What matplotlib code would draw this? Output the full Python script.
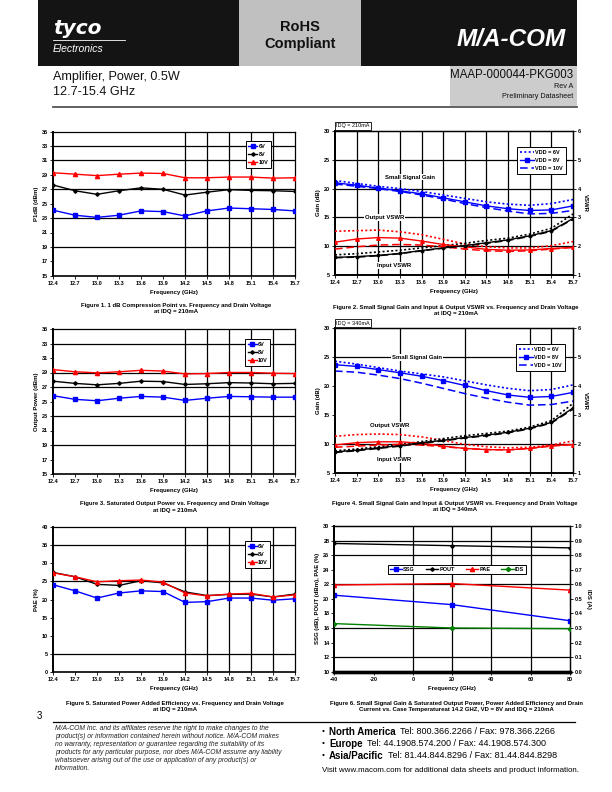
import matplotlib
matplotlib.use("Agg")
import matplotlib.pyplot as plt
from matplotlib.patches import Rectangle
from matplotlib import font_manager as fm

W, H = 612, 792

# ---------------- data ----------------
freq = [12.4, 12.7, 13.0, 13.3, 13.6, 13.9, 14.2, 14.5, 14.8, 15.1, 15.4, 15.7]
freq_labels = ["12.4", "12.7", "13.0", "13.3", "13.6", "13.9", "14.2", "14.5",
               "14.8", "15.1", "15.4", "15.7"]
vdd_labels = ["6V", "8V", "10V"]
vdd_legend = ["VDD = 6V", "VDD = 8V", "VDD = 10V"]

# Figure 1: P1dB (dBm)
p1db_6v = [24.1, 23.4, 23.1, 23.4, 24.0, 23.9, 23.3, 24.0, 24.4, 24.3, 24.2, 24.0]
p1db_8v = [27.6, 26.8, 26.3, 26.8, 27.2, 27.0, 26.2, 26.6, 26.95, 26.85, 26.8, 26.7]
p1db_10v = [29.3, 29.1, 28.9, 29.1, 29.25, 29.2, 28.6, 28.6, 28.7, 28.7, 28.55, 28.6]

# Figure 3: Saturated output power (dBm)
psat_6v = [25.8, 25.3, 25.1, 25.45, 25.7, 25.6, 25.15, 25.45, 25.7, 25.65, 25.6, 25.6]
psat_8v = [27.8, 27.5, 27.3, 27.5, 27.8, 27.75, 27.35, 27.45, 27.6, 27.55, 27.45, 27.5]
psat_10v = [29.4, 29.1, 28.95, 29.1, 29.3, 29.2, 28.8, 28.85, 29.0, 29.0, 28.9, 28.85]

# Figure 5: PAE (%)
pae_6v = [24.1, 22.4, 20.4, 21.8, 22.4, 22.2, 19.2, 19.4, 20.4, 20.4, 19.8, 20.2]
pae_8v = [27.5, 26.3, 24.2, 23.9, 25.2, 24.6, 22.1, 21.1, 21.4, 21.5, 20.7, 21.5]
pae_10v = [27.4, 26.3, 24.9, 25.2, 25.4, 24.8, 21.8, 21.0, 21.5, 21.7, 20.7, 21.3]

# Figure 2: IDQ = 210 mA
gain210_6v = [21.4, 20.9, 20.4, 20.0, 19.5, 18.9, 18.3, 17.7, 17.3, 17.1, 17.4, 18.1]
gain210_8v = [21.0, 20.6, 20.1, 19.6, 19.1, 18.4, 17.7, 17.0, 16.5, 16.2, 16.3, 17.0]
gain210_10v = [20.8, 20.4, 20.0, 19.5, 18.9, 18.2, 17.4, 16.7, 16.1, 15.6, 15.7, 16.2]
outvswr210_6v = [2.52, 2.54, 2.56, 2.50, 2.40, 2.24, 2.08, 1.98, 1.94, 1.94, 2.02, 2.16]
outvswr210_8v = [2.14, 2.25, 2.30, 2.28, 2.18, 2.06, 1.98, 1.89, 1.86, 1.87, 1.92, 1.96]
outvswr210_10v = [1.90, 1.98, 2.04, 2.06, 2.04, 1.98, 1.90, 1.84, 1.82, 1.84, 1.90, 1.96]
invswr210_6v = [1.70, 1.74, 1.80, 1.86, 1.94, 2.02, 2.10, 2.20, 2.28, 2.42, 2.62, 3.12]
invswr210_8v = [1.61, 1.64, 1.68, 1.75, 1.85, 1.94, 2.02, 2.12, 2.22, 2.36, 2.54, 2.96]
invswr210_10v = [1.60, 1.62, 1.67, 1.74, 1.84, 1.93, 2.01, 2.10, 2.20, 2.34, 2.52, 2.94]

# Figure 4: IDQ = 340 mA
gain340_6v = [24.3, 23.8, 23.2, 22.6, 22.1, 21.6, 20.9, 20.2, 19.6, 19.2, 19.4, 20.2]
gain340_8v = [23.7, 23.4, 22.85, 22.3, 21.7, 20.95, 20.1, 19.2, 18.45, 18.05, 18.2, 18.9]
gain340_10v = [22.6, 22.4, 21.9, 21.3, 20.5, 19.6, 18.7, 17.9, 17.2, 16.7, 16.8, 17.4]
outvswr340_6v = [2.26, 2.32, 2.34, 2.32, 2.24, 2.12, 1.98, 1.90, 1.86, 1.88, 1.96, 2.10]
outvswr340_8v = [1.96, 2.04, 2.07, 2.07, 2.02, 1.92, 1.84, 1.80, 1.79, 1.84, 1.94, 1.97]
outvswr340_10v = [1.88, 1.92, 1.96, 1.98, 1.96, 1.90, 1.84, 1.80, 1.79, 1.84, 1.92, 1.98]
invswr340_6v = [1.76, 1.82, 1.90, 1.98, 2.08, 2.18, 2.28, 2.36, 2.44, 2.58, 2.80, 3.40]
invswr340_8v = [1.72, 1.78, 1.86, 1.94, 2.04, 2.12, 2.22, 2.30, 2.40, 2.54, 2.74, 3.24]
invswr340_10v = [1.70, 1.76, 1.84, 1.92, 2.02, 2.10, 2.20, 2.28, 2.38, 2.52, 2.72, 3.20]

# Figure 6: vs case temperature
temp = [-40, 20, 80]
temp_ticks = [-40, -20, 0, 20, 40, 60, 80]
ssg_t = [20.5, 19.2, 17.0]
pout_t = [27.6, 27.3, 27.0]
pae_t = [21.9, 22.1, 21.2]
ids_t = [0.33, 0.30, 0.295]
fig6_labels = ["SSG", "POUT", "PAE", "IDS"]

# ---------------- fonts ----------------
names = {f.name for f in fm.fontManager.ttflist}
HAS_NARROW = "Liberation Sans Narrow" in names
NARROW = ["Liberation Sans Narrow", "Liberation Sans"] if HAS_NARROW else ["Liberation Sans"]
NS = 1.0 if HAS_NARROW else 0.83
plt.rcParams["font.family"] = ["Liberation Sans", "DejaVu Sans"]

BLUE = "#0000ff"
RED = "#ff0000"
BLACK = "#000000"
TS = 4.0   # tick size
LS = 4.3   # label size

fig = plt.figure(figsize=(W / 100, H / 100), dpi=100)
renderer = fig.canvas.get_renderer()

# background overlay in page pixel coordinates
bg = fig.add_axes([0, 0, 1, 1])
bg.set_xlim(0, W)
bg.set_ylim(H, 0)
bg.axis("off")


def page_text(x, y, s, **kw):
    return bg.text(x, y, s, **kw)


# header
bg.add_patch(Rectangle((38, 0), 539, 66, color="#141414", lw=0))
bg.add_patch(Rectangle((239, 0), 122, 66, color="#c0c0c0", lw=0))
bg.add_patch(Rectangle((450, 66), 127, 40, color="#cccccc", lw=0))
bg.plot([53, 577], [106.5, 106.5], color="#555555", lw=1.3)
page_text(53, 28, "tyco", color="white", fontsize=14.5, fontweight="bold",
          fontstyle="italic", va="center", ha="left", family=["DejaVu Sans"])
bg.plot([53, 125], [40, 40], color="white", lw=0.6)
page_text(53, 49, "Electronics", color="white", fontsize=7.5, fontstyle="italic",
          va="center", ha="left")
page_text(300, 27, "RoHS", color="#111111", fontsize=10.5, fontweight="bold",
          va="center", ha="center")
page_text(300, 44, "Compliant", color="#111111", fontsize=10.5, fontweight="bold",
          va="center", ha="center")
page_text(511, 40, "M/A-COM", color="white", fontsize=21 * NS, fontweight="bold",
          fontstyle="italic", va="center", ha="center", family=NARROW)
page_text(53, 77, "Amplifier, Power, 0.5W", fontsize=11 * NS, va="center",
          ha="left", family=NARROW, color="#111111")
page_text(53, 92, "12.7-15.4 GHz", fontsize=11 * NS, va="center", ha="left",
          family=NARROW, color="#111111")
page_text(573, 75, "MAAP-000044-PKG003", fontsize=10 * NS, va="center",
          ha="right", family=NARROW, color="#111111")
page_text(573, 86, "Rev A", fontsize=6.3 * NS, va="center", ha="right",
          family=NARROW, color="#111111")
page_text(573, 96, "Preliminary Datasheet", fontsize=6.3 * NS, va="center",
          ha="right", family=NARROW, color="#111111")

# footer
page_text(37, 716, "3", fontsize=7, va="center", ha="left")
bg.plot([53, 575], [721.5, 721.5], color="black", lw=0.9)
disclaimer = [
    "M/A-COM Inc. and its affiliates reserve the right to make changes to the",
    "product(s) or information contained herein without notice. M/A-COM makes",
    "no warranty, representation or guarantee regarding the suitability of its",
    "products for any particular purpose, nor does M/A-COM assume any liability",
    "whatsoever arising out of the use or application of any product(s) or",
    "information.",
]
for i, line in enumerate(disclaimer):
    page_text(55, 728 + 8.2 * i, line, fontsize=5.9 * NS, fontstyle="italic",
              va="center", ha="left", family=NARROW, color="#222222")
contacts = [("North America", "Tel: 800.366.2266 / Fax: 978.366.2266"),
            ("Europe", "Tel: 44.1908.574.200 / Fax: 44.1908.574.300"),
            ("Asia/Pacific", "Tel: 81.44.844.8296 / Fax: 81.44.844.8298")]
for i, (region, tel) in enumerate(contacts):
    y = 732 + 12 * i
    page_text(322, y, "\u2022", fontsize=6, va="center", ha="left")
    t = page_text(329, y, region, fontsize=7.0, fontweight="bold", va="center", ha="left")
    x1 = t.get_window_extent(renderer).x1
    page_text(x1 + 4, y, tel, fontsize=7.8 * NS, va="center", ha="left", family=NARROW)
page_text(322, 771, "Visit www.macom.com for additional data sheets and product information.",
          fontsize=6.8 * NS, va="center", ha="left", family=NARROW)


# ---------------- helpers ----------------
def make_axes(l, t, r, b):
    return fig.add_axes([l / W, 1 - b / H, (r - l) / W, (b - t) / H])


def style(ax, xticks, xlabels, yticks, ylabels, ylabel, xlabel="Frequency (GHz)"):
    ax.set_xticks(xticks)
    ax.set_xticklabels(xlabels)
    ax.set_yticks(yticks)
    ax.set_yticklabels(ylabels)
    ax.tick_params(labelsize=TS, length=2, width=0.6, pad=1.5)
    for lab in ax.get_xticklabels() + ax.get_yticklabels():
        lab.set_fontweight("bold")
    for sp in ax.spines.values():
        sp.set_linewidth(0.9)
        sp.set_color("black")
    ax.spines["left"].set_linewidth(1.4)
    ax.spines["bottom"].set_linewidth(1.2)
    ax.set_xlabel(xlabel, fontsize=LS, fontweight="bold", labelpad=3)
    ax.set_ylabel(ylabel, fontsize=LS, fontweight="bold", labelpad=2)


def grid(ax, xs, ys):
    for x in xs:
        ax.axvline(x, color="black", lw=0.9, zorder=1)
    for y in ys:
        ax.axhline(y, color="black", lw=0.9, zorder=1)


def fig_legend(ax, handles, labels, x, y, **kw):
    opts = dict(loc="upper left", bbox_to_anchor=(x / W, 1 - y / H),
                bbox_transform=fig.transFigure,
                prop={"weight": "bold", "size": TS},
                frameon=True, fancybox=False, edgecolor="black", framealpha=1,
                borderpad=0.5, handlelength=2.0, handletextpad=0.2,
                labelspacing=0.55, borderaxespad=0)
    opts.update(kw)
    leg = ax.legend(handles, labels, **opts)
    leg.get_frame().set_linewidth(0.7)
    return leg


def caption(xc, y, lines):
    for i, s in enumerate(lines):
        page_text(xc, y + 6.5 * i, s, fontsize=LS, fontweight="bold", ha="center", va="center")


def vdd_chart(box, s6, s8, s10, yticks, ylabel, gx, gy, legend_xy):
    ax = make_axes(*box)
    ax.set_xlim(freq[0], freq[-1])
    ax.set_ylim(yticks[0], yticks[-1])
    grid(ax, gx, gy)
    h1, = ax.plot(freq, s6, color=BLUE, lw=1.0, marker="s", ms=3.4, zorder=3)
    h2, = ax.plot(freq, s8, color=BLACK, lw=1.0, marker="D", ms=1.8, zorder=3)
    h3, = ax.plot(freq, s10, color=RED, lw=1.0, marker="^", ms=3.0, zorder=3)
    style(ax, freq, freq_labels, yticks, [str(v) for v in yticks], ylabel)
    fig_legend(ax, [h1, h2, h3], vdd_labels, *legend_xy, handlelength=1.6)
    return ax


DOT = (0, (1.2, 1.4))
DASH = (0, (5, 2.5))


def gain_chart(box, gains, outv, inv, gx, gy, idq, legend_xy, notes):
    ax = make_axes(*box)
    ax.set_xlim(freq[0], freq[-1])
    ax.set_ylim(5, 30)
    grid(ax, gx, gy)
    ax2 = ax.twinx()
    ax2.set_ylim(1, 6)
    styles = [dict(ls=DOT, lw=1.2), dict(ls="-", lw=1.0), dict(ls=DASH, lw=1.1)]
    handles = []
    for k in range(3):
        mk_b = dict(marker="s", ms=3.0) if k == 1 else {}
        mk_r = dict(marker="^", ms=2.6) if k == 1 else {}
        mk_k = dict(marker="D", ms=1.6) if k == 1 else {}
        h, = ax.plot(freq, gains[k], color=BLUE, zorder=3, **styles[k], **mk_b)
        handles.append(h)
        ax2.plot(freq, outv[k], color=RED, zorder=3, **styles[k], **mk_r)
        ax2.plot(freq, inv[k], color=BLACK, zorder=3, **styles[k], **mk_k)
    style(ax, freq, freq_labels, [5, 10, 15, 20, 25, 30],
          ["5", "10", "15", "20", "25", "30"], "Gain (dB)")
    ax2.set_yticks([1, 2, 3, 4, 5, 6])
    ax2.set_yticklabels(["1", "2", "3", "4", "5", "6"])
    ax2.tick_params(labelsize=TS, length=2, width=0.6, pad=1.5)
    for lab in ax2.get_yticklabels():
        lab.set_fontweight("bold")
    for sp in ax2.spines.values():
        sp.set_linewidth(0.9)
    ax2.spines["left"].set_linewidth(1.4)
    ax2.spines["bottom"].set_linewidth(1.2)
    ax2.set_ylabel("VSWR", fontsize=LS, fontweight="bold", rotation=270, labelpad=5)
    ax.text(0.004, 1.035, idq, transform=ax.transAxes, fontsize=TS,
            fontweight="normal", va="center", ha="left",
            bbox=dict(boxstyle="square,pad=0.25", fc="white", ec="black", lw=0.6))
    for (xv, yv, s) in notes:
        ax.text(xv, yv, s, fontsize=LS, fontweight="bold", ha="center", va="center",
                zorder=4, bbox=dict(boxstyle="square,pad=0.15", fc="white", ec="none"))
    fig_legend(ax2, handles, vdd_legend, *legend_xy, handlelength=2.6)
    return ax


# ---------------- Figure 1 ----------------
ticks_p = [15, 17, 19, 21, 23, 25, 27, 29, 31, 33, 35]
vdd_chart((53, 131.7, 295, 275.7), p1db_6v, p1db_8v, p1db_10v, ticks_p,
          "P1dB (dBm)", [14.2, 14.5, 14.8, 15.1, 15.4], [19, 23, 27, 31, 33],
          (245.7, 141))
caption(176, 305, ["Figure 1. 1 dB Compression Point vs. Frequency and Drain Voltage",
                   "at IDQ = 210mA"])

# ---------------- Figure 2 ----------------
gain_chart((335, 131, 573, 275),
           [gain210_6v, gain210_8v, gain210_10v],
           [outvswr210_6v, outvswr210_8v, outvswr210_10v],
           [invswr210_6v, invswr210_8v, invswr210_10v],
           freq[1:-1], [10, 15, 20, 25], "IDQ = 210mA", (517, 147),
           [(13.44, 22.0, "Small Signal Gain"), (13.09, 15.0, "Output VSWR"),
            (13.22, 6.7, "Input VSWR")])
caption(456, 307, ["Figure 2. Small Signal Gain and Input & Output VSWR vs. Frequency and Drain Voltage",
                   "at IDQ = 210mA"])

# ---------------- Figure 3 ----------------
vdd_chart((53, 329, 295, 474), psat_6v, psat_8v, psat_10v, ticks_p,
          "Output Power (dBm)", [14.2, 14.5, 14.8, 15.1, 15.4], [19, 23, 27, 29, 33],
          (245, 339))
caption(175, 504, ["Figure 3. Saturated Output Power vs. Frequency and Drain Voltage",
                   "at IDQ = 210mA"])

# ---------------- Figure 4 ----------------
gain_chart((335, 328.3, 573, 472.7),
           [gain340_6v, gain340_8v, gain340_10v],
           [outvswr340_6v, outvswr340_8v, outvswr340_10v],
           [invswr340_6v, invswr340_8v, invswr340_10v],
           [13.3, 14.2, 15.1, 15.4], [10, 25], "IDQ = 340mA", (516, 344),
           [(13.54, 25.0, "Small Signal Gain"), (13.16, 13.25, "Output VSWR"),
            (13.22, 7.2, "Input VSWR")])
caption(455, 503, ["Figure 4. Small Signal Gain and Input & Output VSWR vs. Frequency and Drain Voltage",
                   "at IDQ = 340mA"])

# ---------------- Figure 5 ----------------
vdd_chart((53, 527.3, 295, 671.7), pae_6v, pae_8v, pae_10v,
          [0, 5, 10, 15, 20, 25, 30, 35, 40], "PAE (%)",
          [14.2, 14.5, 14.8, 15.1, 15.4], [5, 25, 35], (245, 541))
caption(175, 703, ["Figure 5. Saturated Power Added Efficiency vs. Frequency and Drain Voltage",
                   "at IDQ = 210mA"])

# ---------------- Figure 6 ----------------
ax6 = make_axes(334.3, 526, 570, 671.7)
ax6.set_xlim(-40, 80)
ax6.set_ylim(10, 30)
grid(ax6, [0, 20, 40, 60], [12, 16, 22, 26, 28])
ax6r = ax6.twinx()
ax6r.set_ylim(0, 1.0)
h_ssg, = ax6.plot(temp, ssg_t, color=BLUE, lw=1.0, marker="s", ms=3.0, zorder=3)
h_pout, = ax6.plot(temp, pout_t, color=BLACK, lw=1.0, marker="D", ms=1.8, zorder=3)
h_pae, = ax6.plot(temp, pae_t, color=RED, lw=1.0, marker="^", ms=3.0, zorder=3)
h_ids, = ax6r.plot(temp, ids_t, color="#008000", lw=1.0, marker="D", ms=2.2, zorder=3)
style(ax6, temp_ticks, [str(v) for v in temp_ticks],
      list(range(10, 31, 2)), [str(v) for v in range(10, 31, 2)],
      "SSG (dB), POUT (dBm), PAE (%)")
ax6.spines["bottom"].set_linewidth(2.4)
ax6r.set_yticks([i / 10 for i in range(11)])
ax6r.set_yticklabels([f"{i / 10:.1f}" for i in range(11)])
ax6r.tick_params(labelsize=TS, length=2, width=0.6, pad=1.5)
for lab in ax6r.get_yticklabels():
    lab.set_fontweight("bold")
for sp in ax6r.spines.values():
    sp.set_linewidth(0.9)
ax6r.spines["left"].set_linewidth(1.4)
ax6r.spines["bottom"].set_linewidth(2.4)
ax6r.set_ylabel("IDS (A)", fontsize=LS, fontweight="bold", rotation=270, labelpad=6)
fig_legend(ax6r, [h_ssg, h_pout, h_pae, h_ids], fig6_labels, 388, 565, ncol=4,
           handlelength=2.2, columnspacing=2.0, borderpad=0.35)
caption(456, 703, ["Figure 6. Small Signal Gain & Saturated Output Power, Power Added Efficiency and Drain",
                   "Current vs. Case Temperatureat 14.2 GHZ, VD = 8V and IDQ = 210mA"])

fig.savefig("out.png", dpi=100)
